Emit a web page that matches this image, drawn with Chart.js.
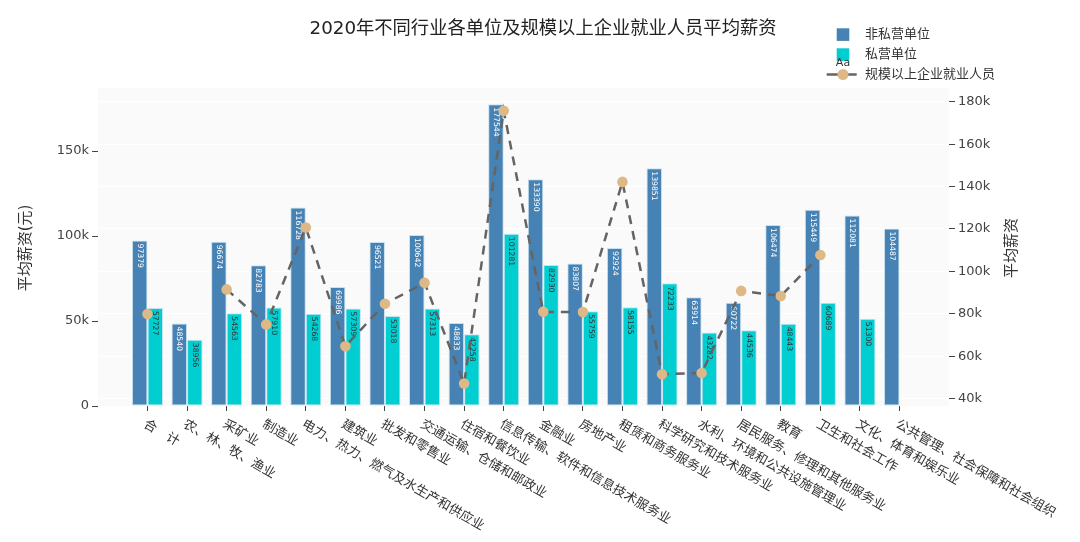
<!DOCTYPE html>
<html>
<head>
<meta charset="utf-8">
<script src="https://cdn.jsdelivr.net/npm/chart.js@4/dist/chart.umd.min.js"></script>
<style>
    html, body { margin: 0; padding: 0; background: #fff; }
    #chart { display: block; }
</style>
</head>
<body>
<canvas id="chart" width="1080" height="542"></canvas>
<script>
const categories = [
    '合　计', '农、林、牧、渔业', '采矿业', '制造业', '电力、热力、燃气及水生产和供应业',
    '建筑业', '批发和零售业', '交通运输、仓储和邮政业', '住宿和餐饮业', '信息传输、软件和信息技术服务业',
    '金融业', '房地产业', '租赁和商务服务业', '科学研究和技术服务业', '水利、环境和公共设施管理业',
    '居民服务、修理和其他服务业', '教育', '卫生和社会工作', '文化、体育和娱乐业', '公共管理、社会保障和社会组织'
];
const seriesNames = ['非私营单位', '私营单位', '规模以上企业就业人员'];
const nonPrivateWages = [97379, 48540, 96674, 82783, 116728, 69986, 96521, 100642, 48833, 177544,
    133390, 83807, 92924, 139851, 63914, 60722, 106474, 115449, 112081, 104487];
const privateWages = [57727, 38956, 54563, 57910, 54268, 57309, 53018, 57313, 42258, 101281,
    82930, 55759, 58155, 72233, 43282, 44536, 48443, 60689, 51300, null];
const aboveScaleWages = [79900, null, 91500, 75000, 120700, 64700, 84700, 94600, 47100, 175800,
    80900, 80800, 142200, 51500, 52100, 90800, 88400, 107700, null, null];
const leftTicks = [0, 50000, 100000, 150000];
const rightTicks = [40000, 60000, 80000, 100000, 120000, 140000, 160000, 180000];

const FONT = '"DejaVu Sans", "Noto Sans CJK SC", sans-serif';
const BLUE = 'rgb(70,130,180)';
const TEAL = 'rgb(0,206,209)';
const MARKER = 'rgb(222,184,135)';
const LINE = 'rgb(100,100,100)';

const fmtK = v => v === 0 ? '0' : (v / 1000) + 'k';

// background, bar texts, titles, category labels and legend
const decorPlugin = {
    id: 'decor',
    beforeDraw(chart) {
        const {ctx, chartArea: a} = chart;
        ctx.save();
        ctx.fillStyle = '#fff';
        ctx.fillRect(0, 0, chart.width, chart.height);
        ctx.fillStyle = '#fafafa';
        ctx.fillRect(a.left, a.top, a.right - a.left, a.bottom - a.top);
        ctx.restore();
    },
    afterDatasetDraw(chart, args) {
        const ds = chart.data.datasets[args.index];
        if (ds.type !== 'bar') return;
        const ctx = chart.ctx;
        ctx.save();
        ctx.font = '7.7px ' + FONT;
        ctx.fillStyle = ds.labelColor;
        ctx.textAlign = 'left';
        ctx.textBaseline = 'middle';
        args.meta.data.forEach((bar, i) => {
            const v = ds.data[i];
            if (v == null) return;
            ctx.save();
            ctx.translate(bar.x, bar.y + 3);
            ctx.rotate(Math.PI / 2);
            ctx.fillText(String(v), 0, 0);
            ctx.restore();
        });
        ctx.restore();
    },
    afterDraw(chart) {
        const ctx = chart.ctx;
        const xScale = chart.scales.x;
        ctx.save();

        // title
        ctx.fillStyle = '#222';
        ctx.font = '18.3px ' + FONT;
        ctx.textAlign = 'center';
        ctx.textBaseline = 'middle';
        ctx.fillText('2020年不同行业各单位及规模以上企业就业人员平均薪资', 543, 29);

        // axis titles
        ctx.font = '15px ' + FONT;
        ctx.fillStyle = '#333';
        ctx.save();
        ctx.translate(26, 248);
        ctx.rotate(-Math.PI / 2);
        ctx.fillText('平均薪资(元)', 0, 0);
        ctx.restore();
        ctx.save();
        ctx.translate(1012, 248);
        ctx.rotate(-Math.PI / 2);
        ctx.fillText('平均薪资', 0, 0);
        ctx.restore();

        // category labels, rotated 30deg
        ctx.font = '13px ' + FONT;
        ctx.textAlign = 'left';
        categories.forEach((c, i) => {
            ctx.save();
            ctx.translate(xScale.getPixelForValue(i) - 3, 423.5);
            ctx.rotate(Math.PI / 6);
            ctx.fillText(c, 0, 0);
            ctx.restore();
        });

        // legend
        ctx.fillStyle = BLUE;
        ctx.fillRect(836.7, 28.3, 12.6, 12.6);
        ctx.fillStyle = TEAL;
        ctx.fillRect(836.7, 48.3, 12.6, 12.6);
        ctx.strokeStyle = LINE;
        ctx.lineWidth = 2.5;
        ctx.beginPath();
        ctx.moveTo(826.7, 74.5);
        ctx.lineTo(856.7, 74.5);
        ctx.stroke();
        ctx.fillStyle = MARKER;
        ctx.beginPath();
        ctx.arc(843, 74.5, 5.5, 0, Math.PI * 2);
        ctx.fill();
        ctx.fillStyle = '#333';
        ctx.font = '11px ' + FONT;
        ctx.textAlign = 'center';
        ctx.fillText('Aa', 843, 63.5);
        ctx.font = '13px ' + FONT;
        ctx.textAlign = 'left';
        ctx.fillText(seriesNames[0], 865, 35);
        ctx.fillText(seriesNames[1], 865, 55);
        ctx.fillText(seriesNames[2], 865, 75);

        ctx.restore();
    }
};

new Chart(document.getElementById('chart'), {
    type: 'bar',
    data: {
        labels: categories.map((c, i) => i),
        datasets: [
            {
                type: 'bar',
                label: seriesNames[0],
                data: nonPrivateWages,
                backgroundColor: BLUE,
                borderColor: 'rgb(200,225,240)',
                borderWidth: 1,
                borderSkipped: false,
                labelColor: '#fff',
                yAxisID: 'y',
                order: 1
            },
            {
                type: 'bar',
                label: seriesNames[1],
                data: privateWages,
                backgroundColor: TEAL,
                borderColor: 'rgb(200,225,240)',
                borderWidth: 1,
                borderSkipped: false,
                labelColor: '#333',
                yAxisID: 'y',
                order: 1
            },
            {
                type: 'line',
                label: seriesNames[2],
                data: aboveScaleWages,
                borderColor: LINE,
                borderWidth: 2.5,
                borderDash: [9, 7],
                tension: 0,
                spanGaps: false,
                pointRadius: 5.3,
                pointHoverRadius: 5.3,
                pointBackgroundColor: MARKER,
                pointBorderWidth: 0,
                yAxisID: 'y1',
                order: 0
            }
        ]
    },
    options: {
        responsive: false,
        animation: false,
        layout: {padding: {top: 88, left: 0, right: 0, bottom: 0}},
        datasets: {bar: {categoryPercentage: 0.785, barPercentage: 1}},
        plugins: {
            legend: {display: false},
            title: {display: false},
            tooltip: {enabled: false}
        },
        scales: {
            x: {
                type: 'linear',
                min: -1.25,
                max: categories.length - 1 + 1.25,
                offset: false,
                afterBuildTicks: s => { s.ticks = categories.map((c, i) => ({value: i})); },
                ticks: {display: false},
                grid: {drawOnChartArea: false, offset: false, tickLength: 5, tickColor: '#444'},
                border: {display: false},
                afterFit: s => { s.height = 136; }
            },
            y: {
                position: 'left',
                min: 0,
                max: 187100,
                afterBuildTicks: s => { s.ticks = leftTicks.map(v => ({value: v})); },
                ticks: {callback: fmtK, color: '#444', font: {family: FONT, size: 13}, padding: 3},
                grid: {drawOnChartArea: false, tickLength: 6, tickColor: '#444'},
                border: {display: false},
                afterFit: s => { s.width = 98; }
            },
            y1: {
                position: 'right',
                min: 36500,
                max: 186500,
                afterBuildTicks: s => { s.ticks = rightTicks.map(v => ({value: v})); },
                ticks: {callback: fmtK, color: '#444', font: {family: FONT, size: 13}, padding: 3},
                grid: {drawOnChartArea: true, color: '#fff', lineWidth: 1, tickLength: 6, tickColor: '#444'},
                border: {display: false},
                afterFit: s => { s.width = 131; }
            }
        }
    },
    plugins: [decorPlugin]
});
</script>
</body>
</html>
